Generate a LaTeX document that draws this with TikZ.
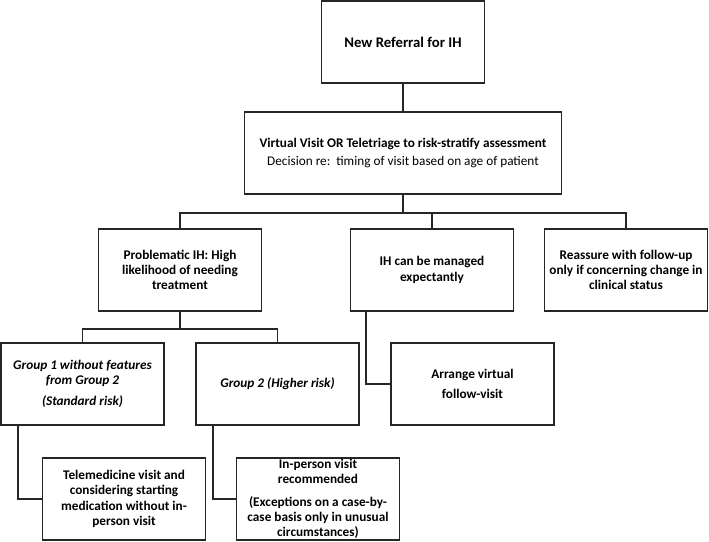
\documentclass[tikz,border=0pt]{standalone}
\usepackage{fontspec}
\setmainfont{Carlito}
\begin{document}
\begin{tikzpicture}[x=1bp,y=-1bp,
  box/.style={draw=black!85,line width=1.6bp,minimum width=163bp,minimum height=82bp,inner sep=0pt,
    align=center,font=\fontsize{13.3}{15.3}\selectfont\bfseries},
  ibox/.style={box,font=\fontsize{13.3}{15.3}\selectfont\bfseries\itshape},
  wire/.style={draw=black!85,line width=1.6bp}]
\useasboundingbox (0,0) rectangle (709,542);
\node[box,font=\fontsize{14.8}{17}\selectfont\bfseries] (b1) at (403,42) {New Referral for IH};
\node[box,minimum width=317bp] (b2) at (403,153) {Virtual Visit OR Teletriage to risk-stratify assessment\\[2bp]\mdseries Decision re:\ \ timing of visit based on age of patient};
\node[box] (a) at (180,270) {Problematic IH: High\\likelihood of needing\\treatment};
\node[box] (b) at (432,270) {IH can be managed\\expectantly};
\node[box] (c) at (626,270) {Reassure with follow-up\\only if concerning change in\\clinical status};
\node[ibox] (g1) at (82.5,384) {Group 1 without features\\from Group 2\\[6bp](Standard risk)};
\node[ibox] (g2) at (277.5,384) {Group 2 (Higher risk)};
\node[box] (arr) at (472.5,384) {Arrange virtual\\[5bp]follow-visit};
\node[box] (tele) at (124,499) {Telemedicine visit and\\considering starting\\medication without in-\\person visit};
\node[box] (inp) at (318,499) {In-person visit\\recommended\\[7bp](Exceptions on a case-by-\\case basis only in unusual\\circumstances)};
\coordinate (j1) at (403,213);
\coordinate (j2) at (180,329);
\draw[wire] (b1.south) -- (b2.north);
\draw[wire] (b2.south) -- (j1);
\draw[wire] (a.north) |- (j1) -| (c.north);
\draw[wire] (b.north) -- (b.north |- j1);
\draw[wire] (a.south) -- (j2);
\draw[wire] (g1.north) |- (j2) -| (g2.north);
\draw[wire] ([xshift=16bp]b.south west) |- (arr.west);
\draw[wire] ([xshift=18bp]g1.south west) |- (tele.west);
\draw[wire] ([xshift=18bp]g2.south west) |- (inp.west);
\end{tikzpicture}
\end{document}
